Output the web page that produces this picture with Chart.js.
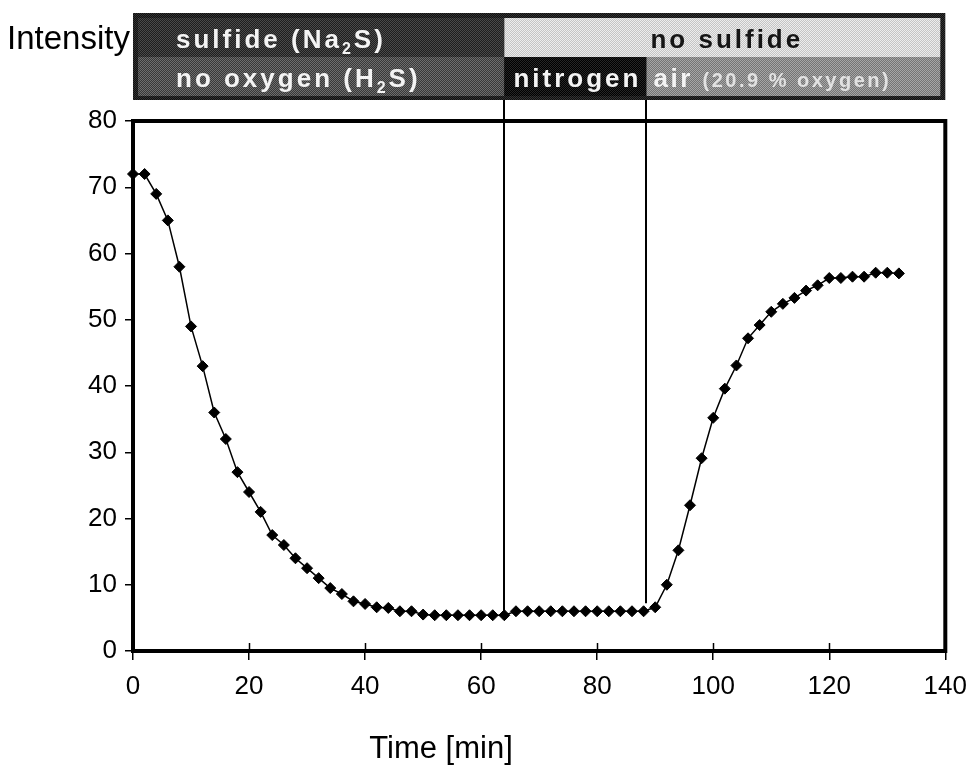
<!DOCTYPE html>
<html>
<head>
<meta charset="utf-8">
<title>Intensity vs time</title>
<script src="https://cdn.jsdelivr.net/npm/chart.js@4.4.1/dist/chart.umd.min.js"></script>
<style>
  html, body { margin: 0; padding: 0; background: #fff; }
  #wrap { width: 978px; height: 770px; }
</style>
</head>
<body>
<div id="wrap"><canvas id="intensityChart" width="978" height="770"></canvas></div>
<script>
// measured intensity, one reading every 2 min
const timeMin = [0, 2, 4, 6, 8, 10, 12, 14, 16, 18, 20, 22, 24, 26, 28, 30, 32, 34, 36, 38,
    40, 42, 44, 46, 48, 50, 52, 54, 56, 58, 60, 62, 64, 66, 68, 70, 72, 74, 76, 78,
    80, 82, 84, 86, 88, 90, 92, 94, 96, 98, 100, 102, 104, 106, 108, 110, 112, 114, 116, 118,
    120, 122, 124, 126, 128, 130, 132];
const intensity = [72, 72, 69, 65, 58, 49, 43, 36, 32, 27, 24, 21, 17.5, 16, 14, 12.5, 11, 9.5, 8.6, 7.5,
    7.1, 6.6, 6.5, 6, 6, 5.5, 5.4, 5.4, 5.4, 5.4, 5.4, 5.4, 5.4, 6, 6, 6, 6, 6, 6, 6,
    6, 6, 6, 6, 6, 6.6, 10, 15.2, 22, 29.1, 35.2, 39.6, 43.1, 47.2, 49.2, 51.2, 52.4, 53.3, 54.4, 55.2,
    56.3, 56.3, 56.5, 56.5, 57.1, 57.1, 57];

const xTicks = [0, 20, 40, 60, 80, 100, 120, 140];
const yTicks = [0, 10, 20, 30, 40, 50, 60, 70, 80];

// gas supply switched at these times; lines run down to the curve
const phaseSwitch = [64, 88.5];
const switchLineEnd = [5.5, 7.2];

const FONT = '"Liberation Sans", Arial, sans-serif';

function dither(ctx, a, b) {
    const c = document.createElement('canvas');
    c.width = 2; c.height = 2;
    const g = c.getContext('2d');
    g.fillStyle = a; g.fillRect(0, 0, 2, 2);
    g.fillStyle = b; g.fillRect(0, 0, 1, 1); g.fillRect(1, 1, 1, 1);
    return ctx.createPattern(c, 'repeat');
}

// text made of several runs (for the subscripts)
function drawRuns(ctx, runs, x, y, align) {
    let total = 0;
    runs.forEach(r => { ctx.font = r[1]; total += ctx.measureText(r[0]).width; });
    let cx = align === 'center' ? x - total / 2 : x;
    runs.forEach(r => {
        ctx.font = r[1];
        if (r[3]) ctx.fillStyle = r[3];
        ctx.fillText(r[0], cx, y + (r[2] || 0));
        cx += ctx.measureText(r[0]).width;
    });
}

const headerPlugin = {
    id: 'header',
    beforeDatasetsDraw(chart) {
        const ctx = chart.ctx, xs = chart.scales.x, ys = chart.scales.y;
        const top = chart.chartArea.top - 21;
        ctx.save();
        ctx.strokeStyle = '#000';
        ctx.lineWidth = 2;
        phaseSwitch.forEach((t, i) => {
            const x = Math.round(xs.getPixelForValue(t));
            ctx.beginPath();
            ctx.moveTo(x, top);
            ctx.lineTo(x, ys.getPixelForValue(switchLineEnd[i]));
            ctx.stroke();
        });
        ctx.restore();
    },
    afterDraw(chart) {
        const ctx = chart.ctx, area = chart.chartArea, xs = chart.scales.x;
        ctx.save();

        // plot frame and inner tick halves
        ctx.strokeStyle = '#000';
        ctx.lineWidth = 4;
        ctx.strokeRect(area.left, area.top, area.right - area.left, area.bottom - area.top);
        ctx.lineWidth = 1.5;
        xTicks.forEach(v => {
            const x = Math.round(xs.getPixelForValue(v)) + 0.5;
            ctx.beginPath();
            ctx.moveTo(x, area.bottom);
            ctx.lineTo(x, area.bottom - 8);
            ctx.stroke();
        });

        // condition boxes above the plot
        const x0 = xs.getPixelForValue(0), x1 = xs.getPixelForValue(140);
        const xa = xs.getPixelForValue(phaseSwitch[0]), xb = xs.getPixelForValue(phaseSwitch[1]);
        const yTop = area.top - 108, yIn = area.top - 103, yMid = area.top - 64,
            yLow = area.top - 25, yBot = area.top - 21;

        ctx.fillStyle = dither(ctx, '#101010', '#333333');
        ctx.fillRect(x0, yTop, x1 - x0, yBot - yTop);
        ctx.fillStyle = dither(ctx, '#1e1e1e', '#4a4a4a');
        ctx.fillRect(x0 + 5, yIn, xa - x0 - 5, yMid - yIn);
        ctx.fillStyle = dither(ctx, '#c4c4c4', '#ededed');
        ctx.fillRect(xa, yIn, x1 - 5 - xa, yMid - yIn);
        ctx.fillStyle = dither(ctx, '#383838', '#6e6e6e');
        ctx.fillRect(x0 + 5, yMid, xa - x0 - 5, yLow - yMid);
        ctx.fillStyle = dither(ctx, '#000000', '#262626');
        ctx.fillRect(xa, yMid, xb - xa, yLow - yMid);
        ctx.fillStyle = dither(ctx, '#747474', '#a6a6a6');
        ctx.fillRect(xb, yMid, x1 - 5 - xb, yLow - yMid);

        const big = 'bold 26px ' + FONT, sub = 'bold 16px ' + FONT, small = 'bold 20px ' + FONT;
        ctx.textBaseline = 'alphabetic';
        ctx.textAlign = 'left';
        ctx.letterSpacing = '3px';
        ctx.fillStyle = '#f4f4f4';
        drawRuns(ctx, [['sulfide (Na', big], ['2', sub, 6], ['S)', big]], x0 + 43, yTop + 35);
        drawRuns(ctx, [['no oxygen (H', big], ['2', sub, 6], ['S)', big]], x0 + 43, yTop + 74);
        drawRuns(ctx, [['nitrogen', big]], (xa + xb) / 2 + 2, yTop + 74, 'center');
        ctx.letterSpacing = '2.5px';
        drawRuns(ctx, [['air ', big, 0, '#f4f4f4'], ['(20.9 % oxygen)', small, 0, '#e2e2e2']], xb + 7, yTop + 74);
        ctx.letterSpacing = '3px';
        ctx.fillStyle = '#151515';
        drawRuns(ctx, [['no sulfide', big]], (xa + x1) / 2 + 2, yTop + 35, 'center');
        ctx.letterSpacing = '0px';

        // axis titles
        ctx.fillStyle = '#000';
        ctx.font = '33px ' + FONT;
        ctx.fillText('Intensity', 7, yTop + 36);
        ctx.font = '31px ' + FONT;
        ctx.textAlign = 'center';
        ctx.fillText('Time [min]', area.left + 308, 758);
        ctx.restore();
    }
};

const canvas = document.getElementById('intensityChart');
new Chart(canvas, {
    type: 'line',
    data: {
        datasets: [{
            data: timeMin.map((t, i) => ({ x: t, y: intensity[i] })),
            borderColor: '#000',
            borderWidth: 1.5,
            tension: 0,
            pointStyle: 'rectRot',
            pointRadius: 5.5,
            pointBackgroundColor: '#000',
            pointBorderColor: '#000',
            pointBorderWidth: 1,
            clip: false
        }]
    },
    options: {
        responsive: false,
        animation: false,
        layout: { padding: { top: 121, right: 32, left: 0, bottom: 0 } },
        plugins: { legend: { display: false }, tooltip: { enabled: false } },
        scales: {
            x: {
                type: 'linear',
                min: 0,
                max: 140,
                afterBuildTicks: s => { s.ticks = xTicks.map(v => ({ value: v })); },
                afterFit: s => { s.height = 119; },
                grid: { drawOnChartArea: false, tickLength: 9, color: '#000', lineWidth: 1.5 },
                border: { display: false },
                ticks: { color: '#000', padding: 11, maxRotation: 0, font: { family: FONT, size: 26 } }
            },
            y: {
                min: 0,
                max: 80,
                afterBuildTicks: s => { s.ticks = yTicks.map(v => ({ value: v })); },
                afterFit: s => { s.width = 133; },
                grid: { drawOnChartArea: false, tickLength: 8, color: '#000', lineWidth: 1.5 },
                border: { display: false },
                ticks: { color: '#000', padding: 8, font: { family: FONT, size: 26 } }
            }
        }
    },
    plugins: [headerPlugin]
});
</script>
</body>
</html>
